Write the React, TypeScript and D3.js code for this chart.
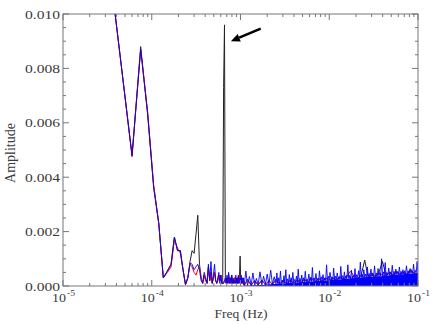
import React from "react";
import * as d3 from "d3";

// ---------- data ----------
const FREQ_STEP_HZ = 1.5e-5; // FFT bin width
const LOW_BINS = [
  2, 3, 4, 5, 6, 7, 8, 9, 10, 11, 12, 13, 14, 15, 16, 17, 18, 19, 20, 21, 22, 23, 24, 25, 26, 27,
  28, 29, 30, 31, 32, 33, 34, 35, 36, 37, 38, 39, 40, 41, 42, 43, 44, 45, 46, 47, 48, 49, 50, 51,
  52, 53, 54, 55, 56, 57, 58, 59, 60, 61, 62, 63, 64, 65, 66, 67, 68, 69, 70, 71, 72,
];
const grayLow = [
  0.013, 0.0082, 0.0048, 0.0088, 0.0063, 0.0037, 0.0023, 0.0003, 0.00055, 0.0008, 0.0018, 0.0013,
  0.0013, 0.0006, 0.00005, 0.0003, 0.0009, 0.0013, 0.0012, 0.0019, 0.0026, 0.0008, 0.0003, 0.0001,
  0.0004, 0.0002, 0.0001, 0.0007, 0.0002, 0.0005, 0.0001, 0.0003, 0.0005, 0.0002, 0.0001, 0.0002,
  0.0004, 0.0002, 0.0004, 0.0001, 0.0001, 0.0073, 0.0096, 0.0002, 0.0001, 0.0003, 0.0001, 0.0004,
  0.0001, 0.0003, 0.0001, 0.0004, 0.0001, 0.0002, 0.0001, 0.0003, 0.0001, 0.0002, 0.0001, 0.0003,
  0.0001, 0.0002, 0.0001, 0.0004, 0.0011, 0.0002, 0.0002, 0.0001, 0.0002, 0.0001, 0.0001,
];
const redLow = [
  0.013, 0.0082, 0.00475, 0.0087, 0.0064, 0.0037, 0.0023, 0.0003, 0.0005, 0.0007, 0.0017, 0.0014,
  0.0012, 0.0006, 0.00005, 0.0003, 0.0008, 0.0007, 0.0005, 0.0004, 0.0006, 0.0007, 0.0003, 0.0001,
  0.0004, 0.0002, 0.0001, 0.0007, 0.0002, 0.0005, 0.0001, 0.0003, 0.0005, 0.0002, 0.0001, 0.0002,
  0.0004, 0.0002, 0.0004, 0.0001, 0.0001, 0.0001, 0.0002, 0.0002, 0.0001, 0.0003, 0.0001, 0.0004,
  0.0001, 0.0003, 0.0001, 0.0004, 0.0001, 0.0002, 0.0001, 0.0003, 0.0001, 0.0002, 0.0001, 0.0003,
  0.0001, 0.0003, 0.0001, 0.0004, 0.0004, 0.0001, 0.0002, 0.0001, 0.0002, 0.0001, 0.0001,
];
const blueLow = [
  0.013, 0.0082, 0.0048, 0.0087, 0.0063, 0.0036, 0.0023, 0.0003, 0.00055, 0.0008, 0.0018, 0.0013,
  0.0013, 0.0006, 0.00005, 0.0003, 0.00085, 0.0008, 0.0006, 0.0007, 0.0008, 0.0006, 0.0002, 0.0001,
  0.0005, 0.0003, 0.0001, 0.0008, 0.0002, 0.0009, 0.0001, 0.0004, 0.0008, 0.0002, 0.0001, 0.0003,
  0.0005, 0.0001, 0.0004, 0.0001, 0.0001, 0.0001, 0.0002, 0.0003, 0.0001, 0.0004, 0.0001, 0.0005,
  0.0001, 0.0003, 0.0001, 0.0004, 0.0001, 0.0003, 0.0001, 0.0002, 0.0001, 0.0004, 0.0001, 0.0003,
  0.0001, 0.0004, 0.0001, 0.0002, 0.0003, 0.0001, 0.0004, 0.0001, 0.0003, 0.0001, 0.0003,
];

// dense high-frequency part of the blue spectrum: [frequency (mHz), amplitude]
const blueHighSpectrum: [number, number][] = [
  [1.1, 0.3e-4], [1.15, 5.5e-4], [1.2, 0.2e-4], [1.26, 3.5e-4], [1.32, 0.4e-4], [1.38, 4.8e-4],
  [1.45, 0.3e-4], [1.51, 2.8e-4], [1.58, 0.5e-4], [1.66, 5.2e-4], [1.74, 0.4e-4], [1.82, 3.6e-4],
  [1.91, 0.6e-4], [2.0, 4.4e-4], [2.09, 0.6e-4], [2.19, 5.8e-4], [2.29, 0.7e-4], [2.4, 3.4e-4],
  [2.51, 0.8e-4], [2.57, 4.8e-4], [2.63, 1.0e-4], [2.69, 3.0e-4], [2.75, 0.8e-4], [2.82, 5.5e-4],
  [2.88, 1.0e-4], [2.95, 2.2e-4], [3.02, 1.1e-4], [3.09, 3.8e-4], [3.16, 0.9e-4], [3.24, 6.0e-4],
  [3.31, 1.2e-4], [3.39, 2.6e-4], [3.47, 1.1e-4], [3.55, 4.2e-4], [3.63, 1.2e-4], [3.72, 3.0e-4],
  [3.8, 1.3e-4], [3.89, 5.0e-4], [3.98, 1.2e-4], [4.07, 2.4e-4], [4.17, 1.4e-4], [4.27, 3.6e-4],
  [4.37, 1.3e-4], [4.47, 6.2e-4], [4.57, 1.5e-4], [4.68, 2.8e-4], [4.79, 1.4e-4], [4.9, 4.0e-4],
  [5.01, 1.5e-4], [5.13, 3.0e-4], [5.25, 1.6e-4], [5.37, 5.4e-4], [5.5, 1.5e-4], [5.62, 2.6e-4],
  [5.75, 1.7e-4], [5.89, 4.4e-4], [6.03, 1.6e-4], [6.17, 3.2e-4], [6.31, 1.8e-4], [6.46, 6.8e-4],
  [6.61, 1.7e-4], [6.76, 3.0e-4], [6.92, 1.8e-4], [7.08, 4.6e-4], [7.24, 1.9e-4], [7.41, 2.8e-4],
  [7.59, 1.8e-4], [7.76, 5.6e-4], [7.94, 2.0e-4], [8.13, 3.4e-4], [8.32, 1.9e-4], [8.51, 4.2e-4],
  [8.71, 2.0e-4], [8.91, 3.0e-4], [9.12, 2.1e-4], [9.33, 7.8e-4], [9.55, 2.0e-4], [9.77, 3.6e-4],
  [10.0, 2.2e-4], [10.2, 5.0e-4], [10.5, 2.3e-4], [10.7, 3.4e-4], [11.0, 2.2e-4], [11.2, 6.6e-4],
  [11.5, 2.4e-4], [11.7, 3.6e-4], [12.0, 2.4e-4], [12.3, 4.8e-4], [12.6, 2.5e-4], [12.9, 3.4e-4],
  [13.2, 2.4e-4], [13.5, 7.2e-4], [13.8, 2.6e-4], [14.1, 3.8e-4], [14.5, 2.6e-4], [14.8, 5.2e-4],
  [15.1, 2.7e-4], [15.5, 3.6e-4], [15.8, 2.6e-4], [16.2, 7.8e-4], [16.6, 2.8e-4], [17.0, 4.0e-4],
  [17.4, 2.8e-4], [17.8, 5.8e-4], [18.2, 2.9e-4], [18.6, 3.8e-4], [19.1, 3.0e-4], [19.5, 6.4e-4],
  [19.9, 3.0e-4], [20.4, 4.2e-4], [20.9, 3.1e-4], [21.4, 5.6e-4], [21.9, 3.0e-4], [22.4, 8.8e-4],
  [22.9, 3.2e-4], [23.4, 4.4e-4], [24.0, 3.2e-4], [24.5, 6.0e-4], [25.1, 3.3e-4], [25.7, 4.4e-4],
  [26.3, 3.2e-4], [26.9, 7.0e-4], [27.5, 3.4e-4], [28.2, 4.6e-4], [28.8, 3.4e-4], [29.5, 6.2e-4],
  [30.2, 3.5e-4], [30.9, 4.8e-4], [31.6, 3.4e-4], [32.4, 7.4e-4], [33.1, 3.6e-4], [33.9, 4.8e-4],
  [34.7, 3.6e-4], [35.5, 6.4e-4], [36.3, 3.7e-4], [37.2, 5.0e-4], [38.0, 3.6e-4], [38.9, 10.0e-4],
  [39.8, 3.8e-4], [40.7, 5.2e-4], [41.7, 3.8e-4], [42.7, 8.6e-4], [43.7, 3.9e-4], [44.7, 5.0e-4],
  [45.7, 3.8e-4], [46.8, 6.6e-4], [47.9, 4.0e-4], [49.0, 5.2e-4], [50.1, 4.0e-4], [51.3, 7.6e-4],
  [52.5, 4.1e-4], [53.7, 5.4e-4], [55.0, 4.0e-4], [56.2, 6.2e-4], [57.5, 4.2e-4], [58.9, 5.2e-4],
  [60.3, 4.2e-4], [61.7, 7.0e-4], [63.1, 4.3e-4], [64.6, 5.4e-4], [66.1, 4.2e-4], [67.6, 6.0e-4],
  [69.2, 4.4e-4], [70.8, 5.6e-4], [72.4, 4.4e-4], [74.1, 7.4e-4], [75.9, 4.5e-4], [77.6, 5.6e-4],
  [79.4, 4.4e-4], [81.3, 6.4e-4], [83.2, 4.6e-4], [85.1, 5.6e-4], [87.1, 4.6e-4], [89.1, 8.0e-4],
  [91.2, 4.6e-4], [93.3, 5.8e-4], [95.5, 4.7e-4], [97.7, 9.0e-4], [100, 4.8e-4],
];
// the black and red spectra above 1 mHz (mostly hidden under the blue), mHz
const hfCoarseMilliHz = [
  1.1, 1.2, 1.32, 1.44, 1.58, 1.74, 1.91, 2.09, 2.29, 2.51, 2.75, 3.02, 3.31, 3.63, 3.98, 4.37, 4.79,
  5.25, 5.75, 6.31, 6.92, 7.59, 8.32, 9.12, 10.0, 11.0, 12.0, 13.2, 14.5, 15.8, 17.4, 19.1, 20.9,
  22.9, 25.1, 27.5, 30.2, 33.1, 36.3, 39.8, 43.7, 47.9, 52.5, 57.5, 63.1, 69.2, 75.9, 83.2, 91.2, 100,
];
const grayHigh = [
  0.00002, 0.00025, 0.00003, 0.0002, 0.00004, 0.00022, 0.00005, 0.0002, 0.00006, 0.00025, 0.00007,
  0.0002, 0.00009, 0.0002, 0.0001, 0.00022, 0.00012, 0.00025, 0.00014, 0.0003, 0.00015, 0.00028,
  0.00017, 0.0003, 0.0002, 0.0003, 0.00022, 0.00035, 0.00024, 0.0004, 0.00026, 0.00038, 0.00028,
  0.0004, 0.00095, 0.0003, 0.00045, 0.00034, 0.0005, 0.0009, 0.00038, 0.0005, 0.0004, 0.00055,
  0.00042, 0.0005, 0.00043, 0.0006, 0.00044, 0.00045,
];
const redHigh = [
  0.00002, 0.0002, 0.00003, 0.00018, 0.00004, 0.0002, 0.00005, 0.00018, 0.00006, 0.0002, 0.00007,
  0.00018, 0.00009, 0.0002, 0.0001, 0.0002, 0.00012, 0.00022, 0.00014, 0.00025, 0.00015, 0.00025,
  0.00017, 0.00028, 0.0002, 0.00028, 0.00022, 0.0003, 0.00024, 0.00035, 0.00055, 0.00035, 0.00028,
  0.00038, 0.0003, 0.0003, 0.0004, 0.00034, 0.00045, 0.0004, 0.00038, 0.00048, 0.0004, 0.0005,
  0.00042, 0.00048, 0.00043, 0.0006, 0.00044, 0.00045,
];

const X_TICK_EXPONENTS = [-5, -4, -3, -2, -1];
const Y_TICKS = [0, 0.002, 0.004, 0.006, 0.008, 0.01];
const Y_TICK_LABELS = ["0.000", "0.002", "0.004", "0.006", "0.008", "0.010"];
const X_LABEL = "Freq (Hz)";
const Y_LABEL = "Amplitude";
const ARROW_FROM = [1.69e-3, 0.00946];
const ARROW_TO = [7.8e-4, 0.009];

// ---------- layout ----------
const W = 436;
const H = 324;
const M = { left: 63, right: 418, top: 14, bottom: 286 };
const FONT = "'Liberation Serif', 'Times New Roman', serif";
const AXIS = "#777";
const TEXT = "#3a3a3a";

type Pt = [number, number];

export default function App() {
  const x = d3.scaleLog().domain([1e-5, 1e-1]).range([M.left, M.right]);
  const y = d3.scaleLinear().domain([0, 0.01]).range([M.bottom, M.top]);

  const low = (vals: number[]): Pt[] => LOW_BINS.map((k, i) => [k * FREQ_STEP_HZ, vals[i]]);
  const high = (fr: number[], vals: number[]): Pt[] => fr.map((f, i) => [f * 1e-3, vals[i]]);

  const gray = [...low(grayLow), ...high(hfCoarseMilliHz, grayHigh)];
  const red = [...low(redLow), ...high(hfCoarseMilliHz, redHigh)];
  const blueHF: Pt[] = blueHighSpectrum.map(([f, a]) => [f * 1e-3, a]);
  const blue = [...low(blueLow), ...blueHF];

  const line = d3
    .line<Pt>()
    .x((d) => x(d[0]))
    .y((d) => y(d[1]));

  // solid body of the dense spectrum: lower envelope of neighbouring samples
  const floorPts: Pt[] = blueHF.map((d, i) => {
    const a = blueHF[Math.max(0, i - 1)][1];
    const b = blueHF[Math.min(blueHF.length - 1, i + 1)][1];
    return [d[0], Math.min(a, d[1], b)];
  });
  const area = d3
    .area<Pt>()
    .x((d) => x(d[0]))
    .y0(y(0))
    .y1((d) => y(d[1]));

  const yMinor = y.ticks(20).filter((t) => !Y_TICKS.some((m) => Math.abs(m - t) < 1e-9));
  const xMajors = X_TICK_EXPONENTS.map((e) => Math.pow(10, e));
  const xMinor = x.ticks().filter((t) => !xMajors.some((m) => Math.abs(m - t) / m < 1e-6));

  const ax1 = x(ARROW_FROM[0]);
  const ay1 = y(ARROW_FROM[1]);
  const ax2 = x(ARROW_TO[0]);
  const ay2 = y(ARROW_TO[1]);
  const ang = Math.atan2(ay2 - ay1, ax2 - ax1);
  const hl = 9;
  const hw = 4;
  const bx = ax2 - hl * Math.cos(ang);
  const by = ay2 - hl * Math.sin(ang);
  const head = `M${ax2},${ay2} L${bx + hw * Math.sin(ang)},${by - hw * Math.cos(ang)} L${
    bx - hw * Math.sin(ang)
  },${by + hw * Math.cos(ang)} Z`;

  return (
    <svg
      width={W}
      height={H}
      style={{ position: "absolute", left: 0, top: 0, background: "#fff" }}
      fontFamily={FONT}
    >
      <defs>
        <clipPath id="plotClip">
          <rect x={M.left} y={M.top} width={M.right - M.left} height={M.bottom - M.top} />
        </clipPath>
      </defs>

      <g clipPath="url(#plotClip)">
        <path d={line(gray) ?? ""} fill="none" stroke="#222" strokeWidth={1} />
        <path d={line(red) ?? ""} fill="none" stroke="#ff0000" strokeWidth={1} />
        <path d={area(floorPts) ?? ""} fill="#0000ff" stroke="none" />
        <path d={line(blue) ?? ""} fill="none" stroke="#0000ff" strokeWidth={0.9} />
      </g>

      {/* frame */}
      <rect
        x={M.left}
        y={M.top}
        width={M.right - M.left}
        height={M.bottom - M.top}
        fill="none"
        stroke={AXIS}
        strokeWidth={1}
      />

      {/* y ticks */}
      {Y_TICKS.map((t) => (
        <g key={`ym${t}`} stroke={AXIS}>
          <line x1={M.left} x2={M.left + 6} y1={y(t)} y2={y(t)} />
          <line x1={M.right} x2={M.right - 6} y1={y(t)} y2={y(t)} />
        </g>
      ))}
      {yMinor.map((t) => (
        <g key={`yn${t}`} stroke={AXIS}>
          <line x1={M.left} x2={M.left + 3} y1={y(t)} y2={y(t)} />
          <line x1={M.right} x2={M.right - 3} y1={y(t)} y2={y(t)} />
        </g>
      ))}
      {/* x ticks */}
      {xMajors.map((t) => (
        <g key={`xm${t}`} stroke={AXIS}>
          <line x1={x(t)} x2={x(t)} y1={M.bottom} y2={M.bottom - 6} />
          <line x1={x(t)} x2={x(t)} y1={M.top} y2={M.top + 6} />
        </g>
      ))}
      {xMinor.map((t) => (
        <g key={`xn${t}`} stroke={AXIS}>
          <line x1={x(t)} x2={x(t)} y1={M.bottom} y2={M.bottom - 3} />
          <line x1={x(t)} x2={x(t)} y1={M.top} y2={M.top + 3} />
        </g>
      ))}

      {/* y tick labels */}
      {Y_TICKS.map((t, i) => (
        <text
          key={`yl${t}`}
          x={M.left - 3}
          y={y(t)}
          dy="0.35em"
          textAnchor="end"
          fontSize={13}
          fill={TEXT}
          textLength={35}
          lengthAdjust="spacingAndGlyphs"
        >
          {Y_TICK_LABELS[i]}
        </text>
      ))}

      {/* x tick labels */}
      {X_TICK_EXPONENTS.map((e) => {
        const px = x(Math.pow(10, e));
        return (
          <g key={`xl${e}`} fill={TEXT}>
            <text x={px - 11} y={302} fontSize={13} textLength={14} lengthAdjust="spacingAndGlyphs">
              10
            </text>
            <text x={px + 4} y={296} fontSize={9} textLength={8} lengthAdjust="spacingAndGlyphs">
              {`-${-e}`}
            </text>
          </g>
        );
      })}

      {/* axis titles */}
      <text
        x={(M.left + M.right) / 2 + 0.5}
        y={318}
        textAnchor="middle"
        fontSize={13}
        fill={TEXT}
        textLength={53}
        lengthAdjust="spacingAndGlyphs"
      >
        {X_LABEL}
      </text>
      <text
        transform={`translate(15, ${(M.top + M.bottom) / 2 + 3}) rotate(-90)`}
        textAnchor="middle"
        fontSize={14}
        fill={TEXT}
      >
        {Y_LABEL}
      </text>

      {/* annotation arrow */}
      <line x1={ax1} y1={ay1} x2={bx} y2={by} stroke="#000" strokeWidth={2.5} />
      <path d={head} fill="#000" />
    </svg>
  );
}
